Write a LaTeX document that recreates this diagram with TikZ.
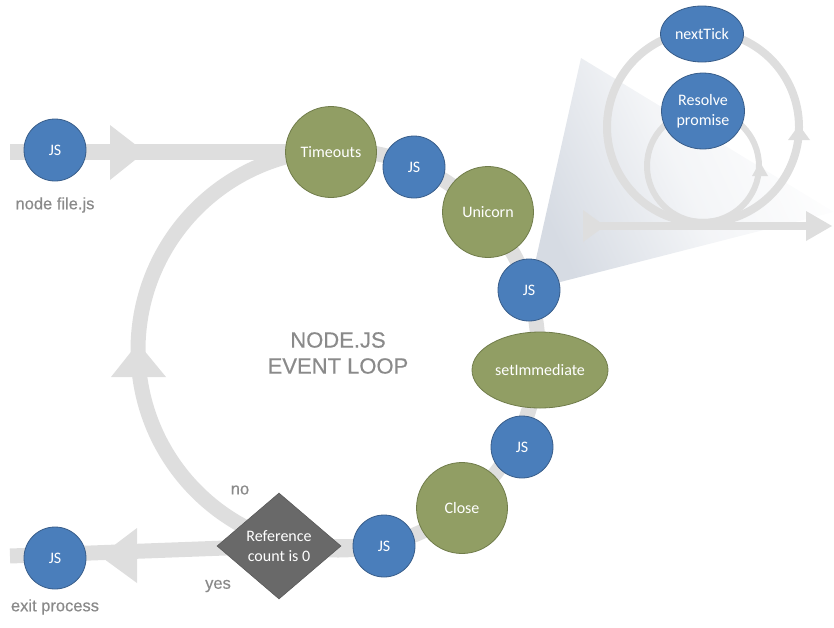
\documentclass[tikz,border=0pt]{standalone}
\usepackage{fontspec}
\setmainfont{Carlito}
\newfontfamily\labelfont[FakeBold=0.5]{Liberation Sans}
\usetikzlibrary{shapes.geometric,backgrounds}
\definecolor{loopgray}{RGB}{222,222,222}
\definecolor{jsblue}{RGB}{74,126,187}
\definecolor{jsborder}{RGB}{56,93,138}
\definecolor{phgreen}{RGB}{145,158,100}
\definecolor{phborder}{RGB}{112,124,74}
\definecolor{txtgray}{RGB}{138,138,138}
\definecolor{diagray}{RGB}{105,105,105}
\definecolor{wedgegray}{RGB}{214,219,227}
\tikzset{
  nodetext/.style={text=white, font=\fontsize{16}{20}\selectfont, align=center, inner sep=0pt},
  js/.style={nodetext, circle, fill=jsblue, draw=jsborder, line width=0.8pt, minimum size=62pt},
  phase/.style={nodetext, circle, fill=phgreen, draw=phborder, line width=0.8pt, minimum size=91pt},
  phaseell/.style={nodetext, ellipse, fill=phgreen, draw=phborder, line width=0.8pt},
  tickell/.style={nodetext, ellipse, fill=jsblue, draw=jsborder, line width=0.8pt},
  decision/.style={nodetext, diamond, fill=diagray, draw=diagray!85!black, line width=0.6pt, minimum width=124pt, minimum height=106pt},
  lbl/.style={text=txtgray, font=\labelfont\fontsize{16.5}{19}\selectfont, inner sep=0pt},
  ring/.style={draw=loopgray, line width=15pt},
  thinring/.style={draw=loopgray, line width=8pt},
  tinyring/.style={draw=loopgray, line width=6pt},
  headfill/.style={fill=loopgray},
}
\begin{document}
\begin{tikzpicture}[x=1pt,y=-1pt]
\useasboundingbox (0,0) rectangle (834,627);

% nodes
\node[js] (jsstart) at (55,150) {JS};
\node[lbl] (lstart) at (55,205) {node file.js};
\node[js] (jsexit) at (55,558) {JS};
\node[lbl] (lexit) at (55,607) {exit process};

\node[phase] (timeouts) at (331,152) {Timeouts};
\node[js] (js1) at (414,167) {JS};
\node[phase] (unicorn) at (488,212) {Unicorn};
\node[js] (js2) at (529,290) {JS};
\node[phaseell, minimum width=136pt, minimum height=76pt] (setimm) at (540,370) {setImmediate};
\node[js] (js3) at (522,447) {JS};
\node[phase] (close) at (462,508) {Close};
\node[js] (js4) at (384,546) {JS};
\node[decision] (refc) at (279,546) {Reference\\count is 0};
\node[lbl] (lno) at (240,490) {no};
\node[lbl] (lyes) at (218,586) {yes};

\node[lbl, font=\labelfont\fontsize{22}{26}\selectfont, align=center] (title) at (338,353) {NODE.JS\\EVENT LOOP};

\node[tickell, minimum width=83pt, minimum height=56pt] (nexttick) at (702,34) {nextTick};
\node[tickell, minimum width=83pt, minimum height=76pt] (resolve) at (703,111) {Resolve\\promise};

\coordinate (instart) at (10,152);
\coordinate (exitend) at (10,556);
\coordinate (loopc) at (338,350);
\coordinate (tickstart) at (583,226);
\coordinate (tickend) at (807,226);
\coordinate (bigc) at (703,127);
\coordinate (smallc) at (703,166);

\begin{pgfonlayer}{background}
  % shaded zoom wedge
  \shade[top color=white, bottom color=wedgegray, middle color=white!72!wedgegray, shading angle=-65]
    (js2.center) -- (581,58) -- (834,212) -- cycle;
  % main loop
  \draw[ring] (loopc) circle[radius=200];
  \draw[draw=loopgray, line width=16pt] (instart) -- (timeouts.center);
  \draw[draw=loopgray, line width=15pt] (exitend) -- (refc.center);
  \draw[ring] (refc.center) -- (js4.center);
  \fill[headfill] (110,125) -- (145,152) -- (110,180) -- cycle;
  \fill[headfill] (137,528) -- (100,556) -- (137,583) -- cycle;
  \fill[headfill] (111,377) -- (138,343) -- (166,377) -- cycle;
  % microtask inset
  \draw[thinring] (bigc) circle[radius=96];
  \draw[tinyring] (smallc) circle[radius=56];
  \draw[thinring] (tickstart) -- (tickend);
  \fill[headfill] (583,210) -- (605,226) -- (583,242) -- cycle;
  \fill[headfill] (806,211) -- (832,226) -- (806,241) -- cycle;
  \fill[headfill] (788,140) -- (799,125) -- (810,140) -- cycle;
  \fill[headfill] (752,176) -- (760,162) -- (768,176) -- cycle;
\end{pgfonlayer}
\end{tikzpicture}
\end{document}
